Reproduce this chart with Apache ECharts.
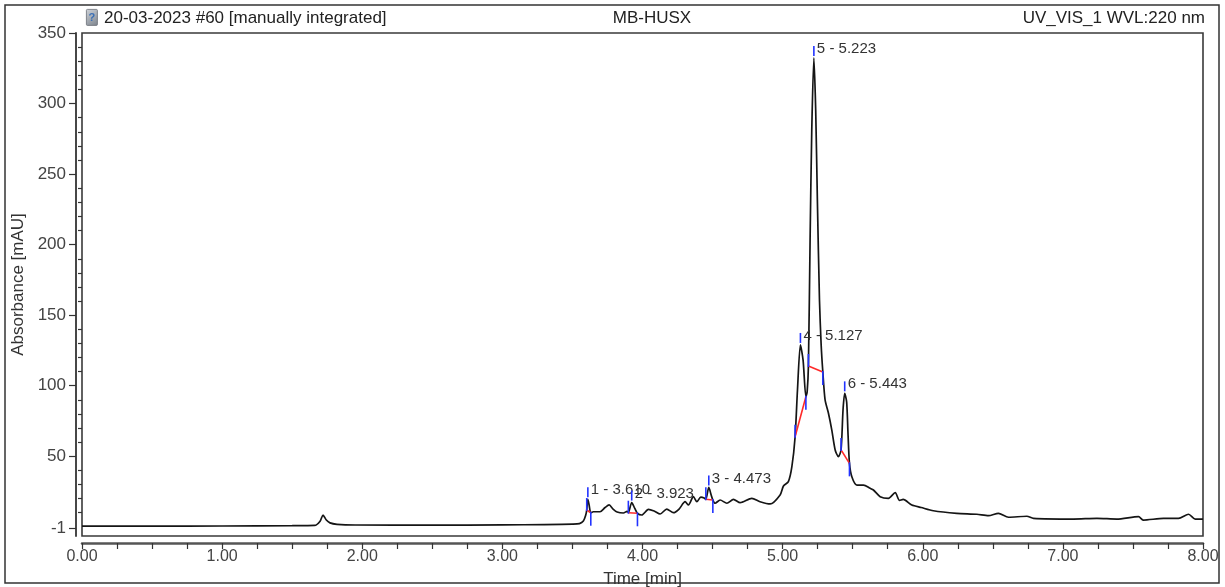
<!DOCTYPE html>
<html>
<head>
<meta charset="utf-8">
<script src="https://cdn.jsdelivr.net/npm/echarts@6/dist/echarts.min.js"></script>
<style>
  html, body { margin: 0; padding: 0; background: #fff; }
  #chart { width: 1225px; height: 587px; }
</style>
</head>
<body>
<div id="chart"></div>
<script>
// Chromatogram trace: retention time (min) and absorbance (mAU)
const timeMin = [
  0.00, 0.50, 1.00, 1.50, 1.66, 1.699, 1.720, 1.742, 1.770, 1.82, 1.95, 2.50, 3.00, 3.30, 3.50, 3.55,
  3.578, 3.594, 3.602, 3.610, 3.619, 3.631, 3.649, 3.697, 3.733, 3.762, 3.790, 3.819, 3.864, 3.890,
  3.899, 3.923, 3.944, 3.964, 3.995, 4.042, 4.083, 4.126, 4.173, 4.221, 4.261, 4.304, 4.328, 4.363,
  4.388, 4.416, 4.440, 4.452, 4.473, 4.490, 4.502, 4.518, 4.554, 4.602, 4.649, 4.697, 4.780, 4.839,
  4.911, 4.982, 5.006, 5.041, 5.066, 5.089, 5.106, 5.127, 5.146, 5.166, 5.175, 5.184, 5.196, 5.208,
  5.223, 5.236, 5.248, 5.263, 5.275, 5.287, 5.303, 5.327, 5.351, 5.375, 5.398, 5.417, 5.431, 5.443,
  5.457, 5.467, 5.477, 5.494, 5.530, 5.577, 5.625, 5.648, 5.696, 5.755, 5.803, 5.834, 5.860, 5.922,
  5.989, 6.076, 6.243, 6.386, 6.469, 6.540, 6.612, 6.743, 6.790, 7.076, 7.243, 7.385, 7.540, 7.573,
  7.718, 7.825, 7.897, 7.944, 8.00
];
const absorbance = [
  0.5, 0.5, 0.6, 0.8, 1.0, 4.0, 8.4, 5.0, 2.8, 1.8, 1.3, 1.2, 1.4, 1.6, 1.9, 2.3,
  4.1, 8.0, 11.9, 19.5, 15.5, 10.0, 10.7, 10.7, 13.7, 15.5, 12.6, 10.5, 9.8, 11.0,
  10.2, 17.2, 13.3, 9.6, 8.4, 12.4, 11.2, 9.1, 12.6, 10.0, 12.6, 17.8, 15.5, 21.4,
  17.8, 21.1, 20.5, 19.5, 27.9, 22.6, 19.0, 16.7, 19.0, 16.7, 19.5, 17.1, 20.2, 17.8,
  16.2, 22.6, 28.9, 32.0, 42.6, 63.7, 97.0, 128.9, 118.2, 92.2, 95.6, 114.0, 203.3, 281.2,
  332.3, 295.4, 231.6, 160.8, 128.9, 109.7, 89.9, 80.5, 68.6, 54.5, 49.7, 54.5, 82.8, 94.6,
  88.5, 65.1, 45.0, 35.5, 29.6, 29.6, 27.3, 26.1, 21.4, 20.2, 24.2, 18.7, 19.4, 15.5,
  13.7, 11.4, 9.6, 8.9, 7.9, 9.6, 6.8, 7.5, 6.0, 5.5, 6.0, 5.5, 7.2, 4.8,
  6.0, 6.0, 8.9, 5.5, 5.5
];

// Integrated peaks
const peakNo = [1, 2, 3, 4, 5, 6];
const peakTime = [3.610, 3.923, 4.473, 5.127, 5.223, 5.443];
const peakHeight = [19.5, 17.2, 27.9, 128.9, 332.3, 94.6];
const baseStartTime = [3.602, 3.899, 4.452, 5.089, 5.184, 5.417];
const baseStartValue = [11.9, 10.0, 19.5, 63.9, 114.0, 54.5];
const baseEndTime = [3.631, 3.964, 4.502, 5.166, 5.287, 5.477];
const baseEndValue = [10.0, 9.6, 19.0, 92.2, 109.7, 45.0];

// Axis ticks
const yLabelValues = [-1, 50, 100, 150, 200, 250, 300, 350];
const yMinorValues = [10, 20, 30, 40, 60, 70, 80, 90, 110, 120, 130, 140, 160, 170, 180, 190,
  210, 220, 230, 240, 260, 270, 280, 290, 310, 320, 330, 340];

// Header texts
const headerLeft = '20-03-2023 #60 [manually integrated]';
const headerCenter = 'MB-HUSX';
const headerRight = 'UV_VIS_1 WVL:220 nm';

const FONT = '"Liberation Sans", Arial, sans-serif';
const chart = echarts.init(document.getElementById('chart'), null, { renderer: 'canvas' });

const trace = timeMin.map((t, i) => [t, absorbance[i]]);
const peaks = peakNo.map((n, i) => [peakTime[i], peakHeight[i], i]);

const option = {
  animation: false,
  backgroundColor: '#fff',
  textStyle: { fontFamily: FONT },
  grid: {
    left: 82, right: 22, top: 33, bottom: 51,
    containLabel: false, outerBoundsMode: 'none',
    show: true, borderColor: '#3a3a3a', borderWidth: 1.6, backgroundColor: 'transparent'
  },
  xAxis: {
    type: 'value', min: 0, max: 8, interval: 1,
    offset: 7,
    name: 'Time [min]', nameLocation: 'middle', nameGap: 28,
    nameTextStyle: { fontSize: 17, color: '#333', fontFamily: FONT },
    axisLine: { show: true, onZero: false, lineStyle: { color: '#555', width: 2.5 } },
    axisTick: { show: true, length: 6, lineStyle: { color: '#333', width: 1.2 } },
    minorTick: { show: true, splitNumber: 4, length: 6, lineStyle: { color: '#333', width: 1.2 } },
    axisLabel: { margin: 6, fontSize: 16, color: '#444', fontFamily: FONT,
      formatter: v => v.toFixed(2) },
    splitLine: { show: false }
  },
  yAxis: [{
    type: 'value', min: -6.5, max: 350,
    offset: 6,
    name: 'Absorbance [mAU]', nameLocation: 'middle', nameGap: 49,
    nameTextStyle: { fontSize: 17, color: '#333', fontFamily: FONT },
    axisLine: { show: true, onZero: false, lineStyle: { color: '#333', width: 1.8 } },
    axisTick: { show: true, length: 7, customValues: yLabelValues, lineStyle: { color: '#333', width: 1.2 } },
    axisLabel: { margin: 10, fontSize: 17, color: '#444', fontFamily: FONT, customValues: yLabelValues },
    splitLine: { show: false }
  }, {
    type: 'value', min: -6.5, max: 350,
    position: 'left', offset: 6,
    axisLine: { show: false },
    axisTick: { show: true, length: 4, customValues: yMinorValues, lineStyle: { color: '#333', width: 1.2 } },
    axisLabel: { show: false, customValues: yMinorValues },
    splitLine: { show: false }
  }],
  series: [{
    type: 'line',
    data: trace,
    showSymbol: false,
    smooth: 0.25,
    lineStyle: { color: '#151515', width: 1.7 },
    z: 3
  }, {
    type: 'custom',
    data: peaks,
    encode: { x: 0, y: 1 },
    clip: false,
    z: 4,
    renderItem: (params, api) => {
      const i = params.dataIndex;
      const s = api.coord([baseStartTime[i], baseStartValue[i]]);
      const e = api.coord([baseEndTime[i], baseEndValue[i]]);
      const a = api.coord([peakTime[i], peakHeight[i]]);
      const blue = { stroke: '#2233ff', lineWidth: 1.6 };
      return {
        type: 'group',
        children: [
          { type: 'line', shape: { x1: s[0], y1: s[1], x2: e[0], y2: e[1] },
            style: { stroke: '#ff2a2a', lineWidth: 1.6 } },
          { type: 'line', shape: { x1: s[0], y1: s[1] - 12, x2: s[0], y2: s[1] + 1 }, style: blue },
          { type: 'line', shape: { x1: e[0], y1: e[1] - 1, x2: e[0], y2: e[1] + 13 }, style: blue },
          { type: 'line', shape: { x1: a[0], y1: a[1] - 2, x2: a[0], y2: a[1] - 12 }, style: blue },
          { type: 'text', x: a[0] + 3, y: a[1] - 9,
            style: { text: peakNo[i] + ' - ' + peakTime[i].toFixed(3), fill: '#333',
              font: '15px ' + FONT, verticalAlign: 'middle', align: 'left' } }
        ]
      };
    }
  }],
  graphic: [
    { type: 'rect', shape: { x: 5, y: 5, width: 1214, height: 578 },
      style: { fill: 'none', stroke: '#333', lineWidth: 1.5 }, silent: true },
    { type: 'group', left: 86, top: 9, children: [
      { type: 'rect', shape: { x: 0, y: 0, width: 11, height: 16, r: 1 },
        style: { fill: new echarts.graphic.LinearGradient(0, 0, 1, 1, [
          { offset: 0, color: '#d0d4da' }, { offset: 1, color: '#7c838c' }]), stroke: '#6a6f76', lineWidth: 0.8 } },
      { type: 'text', x: 5.5, y: 8.5, style: { text: '?', fill: '#3b6fb5',
        font: 'bold 11px ' + FONT, align: 'center', verticalAlign: 'middle' } }
    ] },
    { type: 'text', x: 104, y: 18, style: { text: headerLeft, fill: '#222',
      font: '17px ' + FONT, verticalAlign: 'middle', align: 'left' } },
    { type: 'text', x: 652, y: 18, style: { text: headerCenter, fill: '#222',
      font: '17px ' + FONT, verticalAlign: 'middle', align: 'center' } },
    { type: 'text', x: 1205, y: 18, style: { text: headerRight, fill: '#222',
      font: '17px ' + FONT, verticalAlign: 'middle', align: 'right' } }
  ]
};

chart.setOption(option);
</script>
</body>
</html>
